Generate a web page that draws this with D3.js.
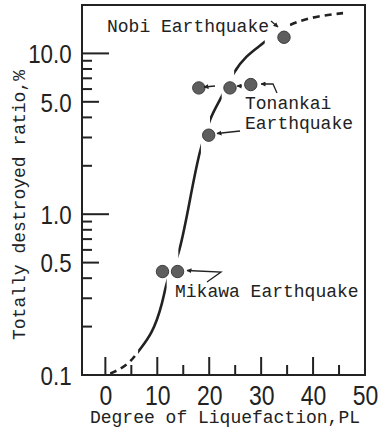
<!DOCTYPE html>
<html>
<head>
<meta charset="utf-8">
<script src="https://cdn.jsdelivr.net/npm/d3@7"></script>
<style>
  body { margin: 0; background: #fff; }
  svg { display: block; }
  .mono { font-family: "Liberation Mono", "DejaVu Sans Mono", monospace; fill: #222; }
  .num { font-family: "Liberation Sans", Arial, sans-serif; fill: #222; }
</style>
</head>
<body>
<svg id="chart" width="379" height="433"></svg>
<script>
// observed earthquakes: degree of liquefaction PL vs totally destroyed ratio (%)
const quakeNames = ['Nobi', 'Tonankai', 'Tonankai', 'Tonankai', 'Tonankai', 'Mikawa', 'Mikawa']
const quakePL = [34.4, 18.0, 24.0, 28.0, 19.9, 11.0, 13.9]
const quakeRatio = [12.6, 6.1, 6.1, 6.4, 3.1, 0.44, 0.44]

// hand drawn trend curve
const curvePL = [0.9, 6.05, 10.9, 11.8, 14.05, 18.4, 20.15, 22.4, 24.8, 30.7, 35.5, 45.8]
const curveRatio = [0.102, 0.136, 0.28, 0.37, 0.57, 2.57, 3.85, 5.4, 7.6, 11.8, 15.0, 17.8]
// visible pieces of the curve [from PL, to PL, style]
const curvePieces = [[0.9, 6.05, 'dash'], [6.3, 11.8, 'solid'], [14.05, 18.4, 'solid'],
  [20.15, 22.4, 'solid'], [24.8, 30.7, 'solid'], [35.5, 45.8, 'dash']]

const xTicks = [0, 5, 10, 15, 20, 25, 30, 35, 40, 45]
const xLabels = [0, 10, 20, 30, 40, 50]
const yTicks = [0.2, 0.3, 0.4, 0.5, 0.6, 0.7, 0.8, 0.9, 1, 2, 3, 4, 5, 6, 7, 8, 9, 10]
const yLabels = [0.1, 0.5, 1, 5, 10]

const margin = { top: 5, right: 14, bottom: 58, left: 82 }
const width = 379 - margin.left - margin.right
const height = 433 - margin.top - margin.bottom

const svg = d3.select('#chart')
const defs = svg.append('defs')
defs.append('marker')
  .attr('id', 'head')
  .attr('viewBox', '0 0 10 10')
  .attr('refX', 9).attr('refY', 5)
  .attr('markerWidth', 5).attr('markerHeight', 5)
  .attr('markerUnits', 'userSpaceOnUse')
  .attr('orient', 'auto')
  .append('path')
  .attr('d', 'M0,0 L10,5 L0,10 z')
  .attr('fill', '#222')

const g = svg.append('g').attr('transform', `translate(${margin.left},${margin.top})`)

const x = d3.scaleLinear().domain([-4.5, 50]).range([0, width])
const y = d3.scaleLog().domain([0.1, 20]).range([height, 0])

// frame
g.append('rect')
  .attr('width', width).attr('height', height)
  .attr('fill', 'none').attr('stroke', '#222').attr('stroke-width', 2)

// inward tick marks as small filled bars: long at 1 and 10, medium at 0.5 and 5
const yTickLen = d => (d === 10 || d === 1) ? 27 : (d === 5 || d === 0.5) ? 17 : 10
const xTickLen = d => d % 10 === 0 ? 18 : 10
svg.selectAll('rect.ytick').data(yTicks).join('rect')
  .attr('class', 'ytick')
  .attr('x', margin.left)
  .attr('y', d => margin.top + y(d) - 1)
  .attr('width', d => yTickLen(d))
  .attr('height', 2)
  .attr('fill', '#222')
svg.selectAll('rect.xtick').data(xTicks).join('rect')
  .attr('class', 'xtick')
  .attr('x', d => margin.left + x(d) - 1)
  .attr('y', d => margin.top + height - xTickLen(d))
  .attr('width', 2)
  .attr('height', d => xTickLen(d))
  .attr('fill', '#222')

// tick labels from d3 axes
const yLab = g.append('g')
  .call(d3.axisLeft(y).tickValues(yLabels).tickSize(0).tickFormat(d => d.toFixed(1)))
yLab.select('.domain').remove()
yLab.selectAll('.tick line').remove()
yLab.selectAll('text')
  .attr('class', 'num')
  .attr('font-size', 26)
  .attr('x', -12)
  .attr('dy', '0.36em')
  .attr('transform', 'scale(0.86,1)')

const xLab = g.append('g')
  .attr('transform', `translate(0,${height})`)
  .call(d3.axisBottom(x).tickValues(xLabels).tickSize(0).tickFormat(d3.format('d')))
xLab.select('.domain').remove()
xLab.selectAll('.tick line').remove()
xLab.selectAll('text')
  .attr('class', 'num')
  .attr('font-size', 28)
  .attr('y', 30).attr('dy', 0)
  .attr('transform', 'scale(0.82,1)')

// trend curve, clipped into solid and dashed pieces
const curveData = curvePL.map((p, i) => [p, curveRatio[i]])
const curveLine = d3.line().x(d => x(d[0])).y(d => y(d[1])).curve(d3.curveMonotoneX)
curvePieces.forEach((piece, i) => {
  defs.append('clipPath').attr('id', `clip${i}`)
    .append('rect')
    .attr('x', x(piece[0])).attr('y', -20)
    .attr('width', x(piece[1]) - x(piece[0])).attr('height', 433)
  g.append('path')
    .attr('clip-path', `url(#clip${i})`)
    .attr('d', curveLine(curveData))
    .attr('fill', 'none')
    .attr('stroke', '#222')
    .attr('stroke-width', 2.6)
    .attr('stroke-dasharray', piece[2] === 'dash' ? '7,5' : null)
})

// observed points
g.selectAll('circle.quake')
  .data(quakePL.map((p, i) => ({ name: quakeNames[i], pl: p, r: quakeRatio[i] })))
  .join('circle')
  .attr('class', 'quake')
  .attr('cx', d => x(d.pl)).attr('cy', d => y(d.r))
  .attr('r', 6.2)
  .attr('fill', '#5e5e5e')
  .attr('stroke', '#3c3c3c').attr('stroke-width', 1)

// annotation labels and leader arrows
const notes = [
  { t: 'Nobi Earthquake', x: 107, y: 32 },
  { t: 'Tonankai', x: 245, y: 109 },
  { t: 'Earthquake', x: 245, y: 129 },
  { t: 'Mikawa Earthquake', x: 175, y: 297 }
]
svg.selectAll('text.note').data(notes).join('text')
  .attr('class', 'note mono')
  .attr('x', d => d.x).attr('y', d => d.y)
  .attr('font-size', 18)
  .text(d => d.t)

const leaders = [
  [[271, 21], [278, 27]],
  [[215, 86], [204, 87]],
  [[242, 86], [237, 86]],
  [[277, 93], [273, 84], [261, 84]],
  [[240, 131], [217, 133.5]],
  [[207, 282], [221, 272], [187, 270.5]]
]
svg.selectAll('path.leader').data(leaders).join('path')
  .attr('class', 'leader')
  .attr('d', d3.line())
  .attr('fill', 'none')
  .attr('stroke', '#222').attr('stroke-width', 1.3)
  .attr('marker-end', 'url(#head)')

// axis titles
svg.append('text')
  .attr('class', 'mono')
  .attr('font-size', 18)
  .attr('x', 225).attr('y', 423)
  .attr('text-anchor', 'middle')
  .text('Degree of Liquefaction,PL')
svg.append('text')
  .attr('class', 'mono')
  .attr('font-size', 18)
  .attr('transform', 'translate(25,205) rotate(-90)')
  .attr('text-anchor', 'middle')
  .text('Totally destroyed ratio,%')
</script>
</body>
</html>
